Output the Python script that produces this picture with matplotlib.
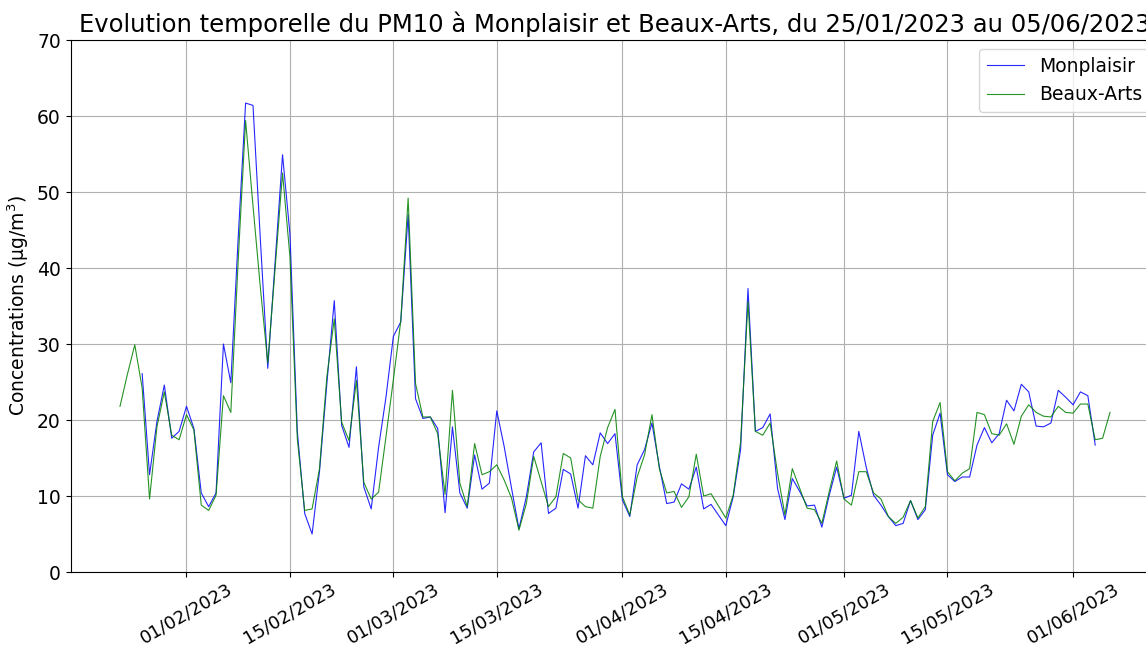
import matplotlib
matplotlib.use("Agg")
import matplotlib.pyplot as plt
import matplotlib.dates as mdates
import numpy as np
import pandas as pd

start_date = "2023-01-23"
n_days = 135

monplaisir = [np.nan, np.nan, np.nan, 26.1, 12.8, 19.8, 24.6, 17.6, 18.5, 21.8,
              18.9, 10.4, 8.6, 10.4, 30.0, 24.9, 44.0, 61.7, 61.4, 43.7,
              26.8, 40.8, 54.9, 44.5, 18.5, 7.7, 5.0, 13.2, 24.8, 35.7,
              19.3, 16.4, 27.0, 11.2, 8.3, 16.4, 23.0, 31.0, 32.9, 47.0,
              22.8, 20.2, 20.4, 18.9, 7.8, 19.1, 10.4, 8.4, 15.4, 10.9,
              11.7, 21.2, 16.5, 11.0, 5.7, 9.9, 15.8, 17.0, 7.7, 8.4,
              13.5, 12.9, 8.4, 15.3, 14.1, 18.3, 16.9, 18.2, 9.5, 7.3,
              14.1, 16.1, 19.6, 13.9, 9.0, 9.2, 11.6, 10.9, 13.8, 8.3,
              8.9, 7.5, 6.1, 9.9, 16.1, 37.3, 18.5, 19.0, 20.8, 11.0,
              6.9, 12.3, 10.6, 8.7, 8.8, 5.9, 10.1, 13.8, 9.7, 10.1,
              18.5, 13.8, 10.1, 8.8, 7.3, 6.1, 6.4, 9.4, 6.9, 8.2,
              18.0, 20.9, 12.8, 11.9, 12.5, 12.5, 16.7, 19.0, 17.0, 18.2,
              22.6, 21.2, 24.7, 23.7, 19.2, 19.1, 19.6, 23.9, 23.0, 22.0,
              23.7, 23.2, 16.7, np.nan, np.nan]

beaux_arts = [21.8, 26.0, 29.9, 24.2, 9.6, 19.1, 23.7, 18.0, 17.4, 20.7,
              18.7, 8.8, 8.1, 10.1, 23.2, 21.0, 41.0, 59.4, 48.2, 37.4,
              27.5, 40.0, 52.5, 41.5, 17.5, 8.1, 8.3, 13.6, 25.7, 33.3,
              19.7, 17.3, 25.2, 11.8, 9.6, 10.5, 17.8, 25.3, 33.0, 49.2,
              24.8, 20.4, 20.4, 18.2, 10.2, 23.9, 11.7, 8.6, 16.9, 12.8,
              13.2, 14.1, 12.1, 9.7, 5.5, 9.0, 15.2, 11.9, 8.6, 9.9,
              15.6, 15.0, 9.5, 8.6, 8.4, 15.2, 19.0, 21.4, 9.9, 7.5,
              12.5, 15.4, 20.7, 13.6, 10.4, 10.6, 8.5, 9.9, 15.5, 10.0,
              10.3, 8.7, 7.1, 10.1, 17.1, 35.6, 18.5, 18.0, 19.6, 13.0,
              7.5, 13.6, 11.0, 8.4, 8.2, 6.4, 10.6, 14.6, 9.6, 8.8,
              13.2, 13.2, 10.4, 9.6, 7.3, 6.4, 7.2, 9.4, 7.1, 8.6,
              19.8, 22.3, 13.2, 12.0, 13.0, 13.6, 21.0, 20.7, 18.2, 18.0,
              19.5, 16.8, 20.5, 22.0, 21.0, 20.5, 20.4, 21.8, 21.0, 20.9,
              22.1, 22.1, 17.4, 17.6, 21.0]

series_labels = ["Monplaisir", "Beaux-Arts"]
title = "Evolution temporelle du PM10 à Monplaisir et Beaux-Arts, du 25/01/2023 au 05/06/2023"
ylabel = "Concentrations (µg/m$^3$)"

dates = pd.date_range(start_date, periods=n_days, freq="D")

fig = plt.figure(figsize=(11.46, 6.48), dpi=100)
ax = fig.add_axes([70.5 / 1146, 76 / 648, 1089 / 1146, 532 / 648])

ax.plot(dates, monplaisir, color="blue", linewidth=0.8, alpha=0.85, label=series_labels[0])
ax.plot(dates, beaux_arts, color="green", linewidth=0.8, alpha=0.85, label=series_labels[1])

ax.set_ylim(0, 70)
ax.xaxis.set_major_locator(mdates.DayLocator(bymonthday=[1, 15]))
ax.xaxis.set_major_formatter(mdates.DateFormatter("%d/%m/%Y"))
ax.grid(True)
ax.tick_params(axis="y", labelsize=13.5)
ax.tick_params(axis="x", labelsize=13, pad=2)
plt.setp(ax.get_xticklabels(), rotation=30, ha="center")
ax.set_ylabel(ylabel, fontsize=13.5)
ax.set_title(title, fontsize=17.5)
ax.legend(loc="upper right", fontsize=13.5)

fig.savefig("out.png", dpi=100)
